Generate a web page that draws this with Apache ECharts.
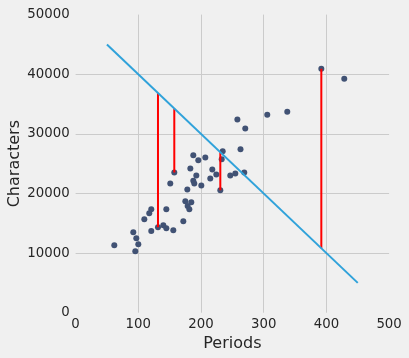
<!DOCTYPE html>
<html>
<head>
<meta charset="utf-8">
<script src="https://cdn.jsdelivr.net/npm/echarts@6/dist/echarts.min.js"></script>
<style>
html,body{margin:0;padding:0;background:#f0f0f0;}
#chart{width:409px;height:358px;}
</style>
</head>
<body>
<div id="chart"></div>
<script>
// Data
const periods = [61.7, 92, 96.8, 100, 95.2, 109.6, 117.5, 120.7, 120.7, 131.4, 139.9, 144.7, 144.7, 155.8, 151, 157.4, 171.8, 175, 178.7, 181.4, 184.5, 178.2, 183, 187.7, 195.7, 206.9, 192.5, 187.7, 189.3, 200.5, 214.8, 218, 224.4, 230.8, 246.7, 254.7, 234.6, 233, 263, 269, 270.6, 258, 305.7, 337.6, 391.9, 428.5];
const characters = [11320, 13490, 12490, 11490, 10320, 15670, 16670, 17340, 13710, 14330, 14660, 17340, 14160, 13830, 21680, 23520, 15330, 18680, 17890, 17340, 18510, 20680, 24190, 26420, 25580, 26030, 23020, 22120, 21680, 21350, 22520, 24030, 23190, 20520, 23020, 23360, 27090, 25750, 27400, 23520, 30880, 32390, 33220, 33720, 40910, 39240];
// Fitted line endpoints
const lineX = [50, 450];
const lineY = [45000, 5000];
// Residuals drawn (indices into the points)
const residualIdx = [9, 15, 33, 44];
const xTicks = [0, 100, 200, 300, 400, 500];
const yTicks = [0, 10000, 20000, 30000, 40000, 50000];

const fitAt = x => lineY[0] + (lineY[1] - lineY[0]) * (x - lineX[0]) / (lineX[1] - lineX[0]);

const chart = echarts.init(document.getElementById('chart'), null, {renderer: 'canvas'});
const labelStyle = {color: '#262626', fontSize: 13.3, fontFamily: 'DejaVu Sans', formatter: v => String(v)};
const residualSeries = residualIdx.map(i => ({
  type: 'line',
  data: [[periods[i], characters[i]], [periods[i], fitAt(periods[i])]],
  symbol: 'none',
  lineStyle: {color: '#ff0000', width: 2},
  z: 3,
  silent: true,
  animation: false
}));

chart.setOption({
  backgroundColor: '#f0f0f0',
  animation: false,
  grid: {left: 75.6, right: 19.9, top: 14.6, bottom: 45.3, containLabel: false, outerBoundsMode: 'none'},
  xAxis: {
    type: 'value', min: xTicks[0], max: xTicks[xTicks.length - 1], interval: 100,
    name: 'Periods', nameLocation: 'middle', nameGap: 23, nameMoveOverlap: false,
    nameTextStyle: {color: '#262626', fontSize: 16, fontFamily: 'DejaVu Sans'},
    axisLine: {show: false}, axisTick: {show: false},
    axisLabel: Object.assign({margin: 5}, labelStyle),
    splitLine: {show: true, showMinLine: false, showMaxLine: false, lineStyle: {color: '#cbcbcb', width: 1}}
  },
  yAxis: {
    type: 'value', min: yTicks[0], max: yTicks[yTicks.length - 1], interval: 10000,
    name: 'Characters', nameLocation: 'middle', nameGap: 53, nameMoveOverlap: false,
    nameTextStyle: {color: '#262626', fontSize: 16, fontFamily: 'DejaVu Sans'},
    axisLine: {show: false}, axisTick: {show: false},
    axisLabel: Object.assign({margin: 6}, labelStyle),
    splitLine: {show: true, showMinLine: false, showMaxLine: false, lineStyle: {color: '#cbcbcb', width: 1}}
  },
  series: [
    {
      type: 'scatter',
      data: periods.map((p, i) => [p, characters[i]]),
      symbolSize: 6,
      itemStyle: {color: '#415274', opacity: 1},
      z: 2
    },
    {
      type: 'line',
      data: lineX.map((x, i) => [x, lineY[i]]),
      symbol: 'none',
      lineStyle: {color: '#30a2da', width: 2},
      z: 4
    }
  ].concat(residualSeries)
});
</script>
</body>
</html>
